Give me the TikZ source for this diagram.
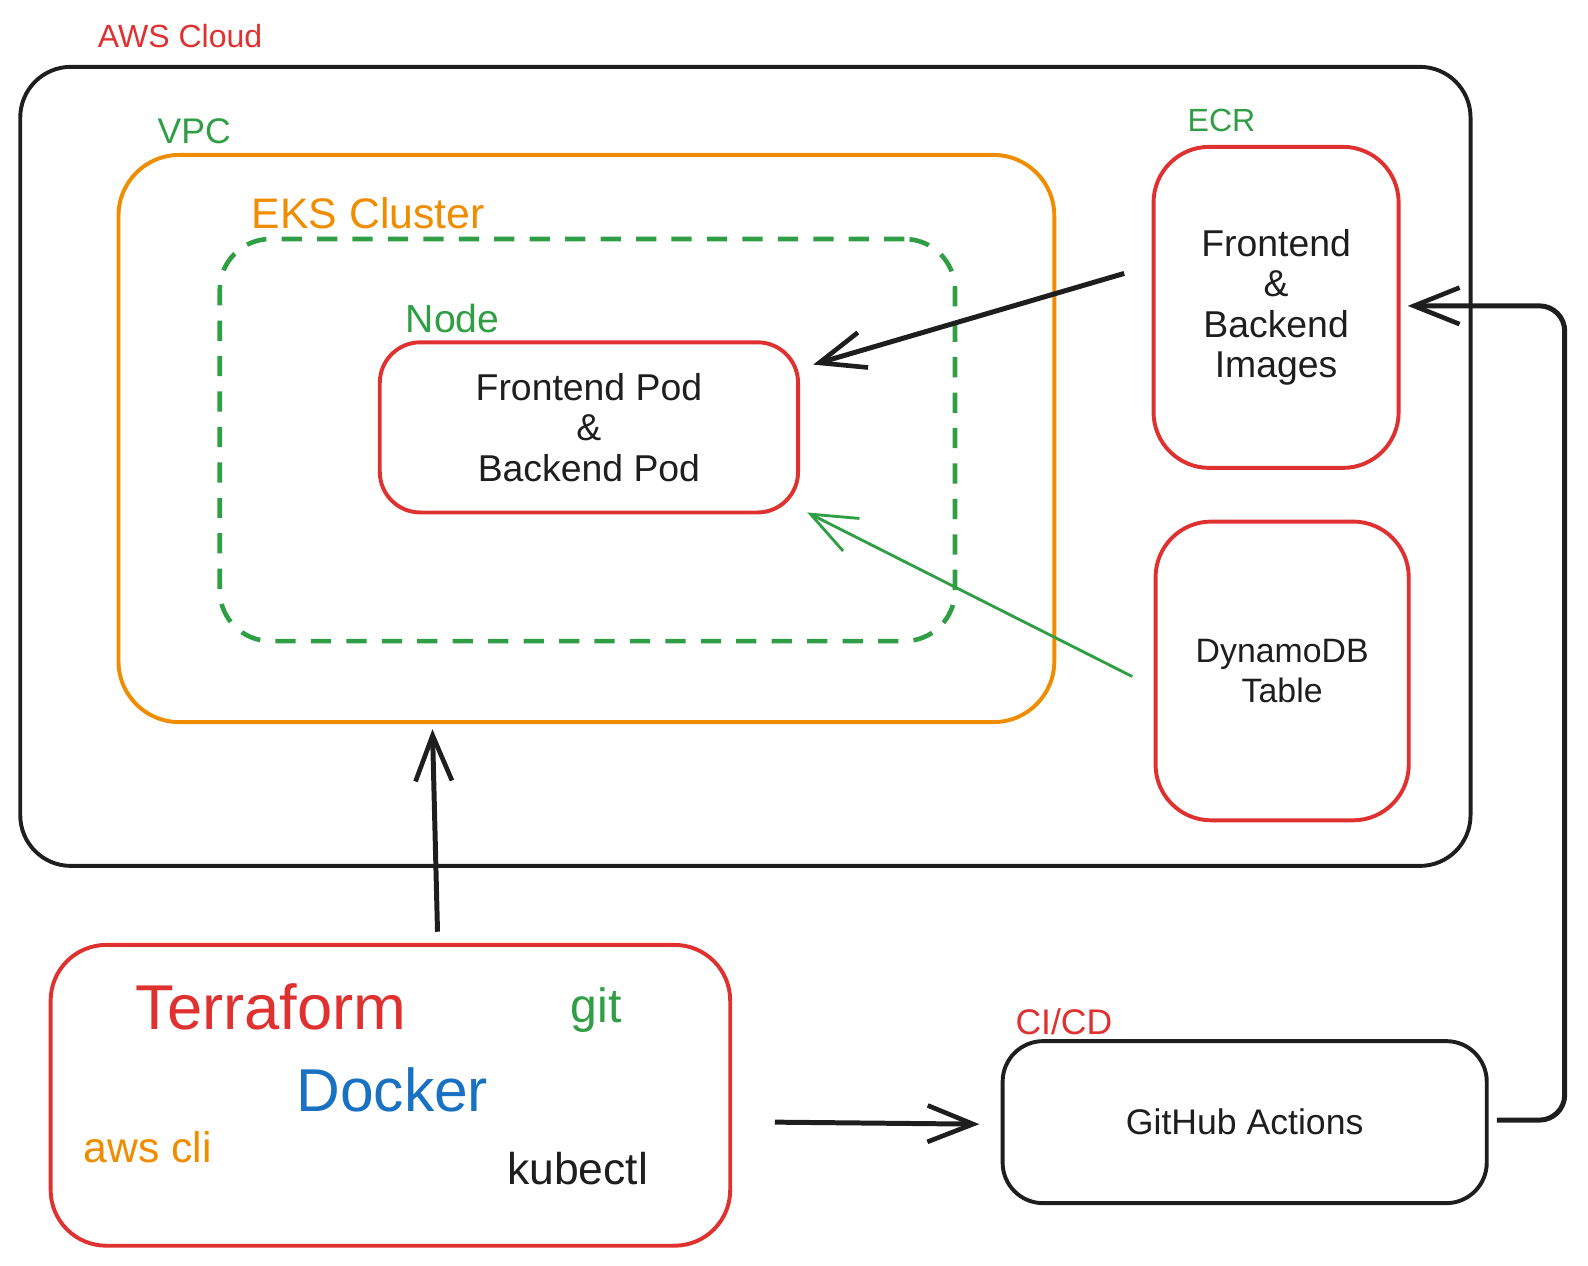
\documentclass[tikz,border=0pt]{standalone}
\usepackage{fontspec}
\setmainfont{Liberation Sans}
\usetikzlibrary{arrows.meta}
\definecolor{exred}{HTML}{E03131}
\definecolor{exgreen}{HTML}{2F9E44}
\definecolor{exorange}{HTML}{F08C00}
\definecolor{exblue}{HTML}{1971C2}
\definecolor{exblack}{HTML}{1E1E1E}
\begin{document}
\begin{tikzpicture}[
  box/.style={draw, rectangle, rounded corners=0.5cm, line width=1.1pt, align=center,
    font=\fontsize{10.5}{11.4}\selectfont, text=exblack},
  redbox/.style={box, draw=exred},
  lbl/.style={anchor=base west, inner sep=0pt, font=\fontsize{#1}{#1}\selectfont},
  arr/.style={-{Straight Barb[length=4.5mm,width=3.6mm,line width=1.3pt]}, line width=1.4pt, exblack},
]
\useasboundingbox (0,0) rectangle (15.68,-12.50);

% AWS cloud and what is inside
\node[box, draw=exblack, minimum width=14.32cm, minimum height=7.89cm] (cloud) at (7.36,-4.605) {};
\node[lbl=9, text=exred] at (0.96,-0.47) {AWS Cloud};

\node[box, draw=exorange, rounded corners=0.6cm, minimum width=9.24cm, minimum height=5.6cm] (vpc) at (5.79,-4.33) {};
\node[lbl=10, text=exgreen] at (1.55,-1.42) {VPC};

\node[box, draw=exgreen, line width=1.3pt, dash pattern=on 2mm off 1.5mm, minimum width=7.26cm, minimum height=3.97cm] (eks) at (5.80,-4.345) {};
\node[lbl=12, text=exorange] at (2.48,-2.26) {EKS Cluster};

\node[redbox, rounded corners=0.4cm, minimum width=4.13cm, minimum height=1.68cm] (pod) at (5.815,-4.22) {Frontend Pod\\\&\\Backend Pod};
\node[lbl=11, text=exgreen] at (4.00,-3.28) {Node};

\node[redbox, rounded corners=0.55cm, minimum width=2.42cm, minimum height=3.17cm] (ecr) at (12.60,-3.035) {Frontend\\\&\\Backend\\Images};
\node[lbl=9, text=exgreen] at (11.72,-1.30) {ECR};

\node[redbox, rounded corners=0.55cm, minimum width=2.5cm, minimum height=2.95cm, font=\fontsize{9.5}{11.4}\selectfont] (dynamo) at (12.66,-6.625) {DynamoDB\\Table};

% tools
\node[redbox, rounded corners=0.55cm, minimum width=6.71cm, minimum height=2.97cm] (tools) at (3.855,-10.815) {};
\node[lbl=17.8, text=exred] (tf) at (1.33,-10.17) {Terraform};
\node[lbl=13.5, text=exgreen] (git) at (5.63,-10.10) {git};
\node[lbl=17, text=exblue] (docker) at (2.92,-10.97) {Docker};
\node[lbl=12, text=exorange] (awscli) at (0.82,-11.48) {aws cli};
\node[lbl=12.5, text=exblack] (kctl) at (5.00,-11.70) {kubectl};

% CI/CD
\node[box, draw=exblack, rounded corners=0.4cm, minimum width=4.78cm, minimum height=1.6cm, font=\fontsize{10}{11.4}\selectfont] (gha) at (12.29,-11.08) {GitHub Actions};
\node[lbl=10, text=exred] at (10.02,-10.21) {CI/CD};

% connectors
\coordinate (ecrout) at (11.10,-2.70);
\coordinate (podin) at (8.03,-3.60);
\coordinate (dbout) at (11.18,-6.68);
\coordinate (podin2) at (7.97,-5.06);
\coordinate (toolsout) at (4.32,-9.20);
\coordinate (vpcin) at (4.27,-7.20);
\coordinate (toolsright) at (7.65,-11.08);
\coordinate (ghain) at (9.67,-11.10);
\coordinate (ghaout) at (14.78,-11.06);
\coordinate (ecrin) at (13.90,-3.02);

\draw[arr] (ecrout) -- (podin);
\draw[-{Straight Barb[length=4.5mm,width=3.6mm,line width=0.8pt]}, line width=0.8pt, exgreen] (dbout) -- (podin2);
\draw[arr] (toolsout) -- (vpcin);
\draw[arr] (toolsright) -- (ghain);
\draw[arr, rounded corners=0.25cm] (ghaout) -- (15.45,-11.06) |- (ecrin);
\end{tikzpicture}
\end{document}
